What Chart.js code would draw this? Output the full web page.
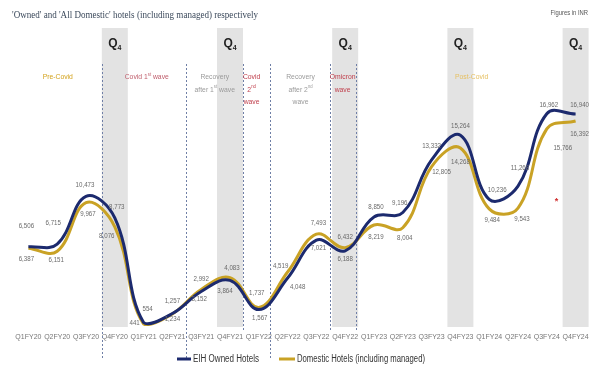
<!DOCTYPE html>
<html><head><meta charset="utf-8">
<script src="https://cdn.jsdelivr.net/npm/chart.js@4.4.1/dist/chart.umd.min.js"></script>
<style>html,body{margin:0;padding:0;background:#fff;overflow:hidden}</style>
</head><body>
<canvas id="c" width="590" height="365"></canvas>
<script>
// ---------- DATA ----------
const categories = ['Q1FY20','Q2FY20','Q3FY20','Q4FY20','Q1FY21','Q2FY21','Q3FY21','Q4FY21','Q1FY22','Q2FY22','Q3FY22','Q4FY22','Q1FY23','Q2FY23','Q3FY23','Q4FY23','Q1FY24','Q2FY24','Q3FY24','Q4FY24'];
const eihOwned = [6506,6715,10473,8773,554,1257,2992,3864,1567,4048,7021,6188,8850,9196,13332,15264,10236,11268,16962,16940];
const domesticHotels = [6387,6151,9967,8076,441,1234,3152,4083,1737,4519,7493,6432,8219,8004,12805,14268,9484,9543,15766,16392];
const seriesNames = ['EIH Owned Hotels','Domestic Hotels (including managed)'];
const q4Index = [3,7,11,15,19];
const titleText = "'Owned' and 'All Domestic' hotels (including managed) respectively";
const unitText = 'Figures in INR';

// ---------- PLACEMENT / STYLE ----------
const NAVY = '#1c2a6e', GOLD = '#c9a225';
const navyDx = [-2,-4,-1,2,4,0,0,-5,1,10,2,0,2,-3,0,0,8,2,2,4];
const navyDy = [-21,-21,-11,-11,-13,-12,-12,11,8,9,8,8,-10,-9,-14,-9,-9,-18,-9,-9];
const goldDx = [-2,-1,2,-8,-9,0,-2,2,-2,-7,2,0,2,2,10,0,3,4,16,4];
const goldDy = [11,9,11,9,-1,5,10,-10,-14,-6,-11,-11,12,10,5,14,11,11,19,13];
const phases = [
  {at:1.02, lines:[[['Pre-Covid']]], color:'#d3a21c'},
  {at:4.11, lines:[[['Covid 1'],['st',1],[' wave']]], color:'#c0606e'},
  {at:6.47, lines:[[['Recovery']],[['after 1'],['st',1],[' wave']]], color:'#9a9a9a'},
  {at:7.75, lines:[[['Covid']],[['2'],['nd',1]],[['wave']]], color:'#c0404d'},
  {at:9.45, lines:[[['Recovery']],[['after 2'],['nd',1]],[['wave']]], color:'#9a9a9a'},
  {at:10.91, lines:[[['Omicron']],[['wave']]], color:'#c0404d'},
  {at:15.39, lines:[[['Post-Covid']]], color:'#e6c062'}
];
const dividers = [{at:2.55,long:1},{at:5.47,long:1},{at:7.44},{at:8.38,long:1},{at:10.47},{at:11.37}];
const SANS = "'Liberation Sans Narrow','Liberation Sans',Arial,sans-serif";

function drawScaled(ctx, text, x, y, font, color, sx, align){
  ctx.save();
  ctx.font = font; ctx.fillStyle = color; ctx.textBaseline = 'middle';
  const w = ctx.measureText(text).width * sx;
  let left = x;
  if (align === 'center') left = x - w/2; else if (align === 'right') left = x - w;
  ctx.translate(left, y); ctx.scale(sx, 1); ctx.textAlign = 'left';
  ctx.fillText(text, 0, 0);
  ctx.restore();
  return w;
}

function drawRich(ctx, parts, cx, y, color){
  const base = 8, sx = 0.85;
  let total = 0;
  parts.forEach(p=>{ ctx.font = (p[1]?5:base)+'px '+SANS; total += ctx.measureText(p[0]).width*sx; });
  let x = cx - total/2;
  parts.forEach(p=>{
    const f = (p[1]?5:base)+'px '+SANS;
    x += drawScaled(ctx, p[0], x, p[1]? y-2.5 : y, f, color, sx, 'left');
  });
}

const decorPlugin = {
  id:'decor',
  beforeDatasetsDraw(chart){
    const {ctx, chartArea:a, scales:{x,y}} = chart;
    ctx.save();
    ctx.fillStyle = '#e3e3e3';
    q4Index.forEach(i=>{ const cx = x.getPixelForValue(i); ctx.fillRect(cx-13, a.top, 26, a.bottom-a.top); });
    ctx.strokeStyle = '#6f7fa6'; ctx.lineWidth = 1; ctx.setLineDash([2,2]);
    dividers.forEach(d=>{ const px = Math.round(x.getPixelForValue(d.at))+0.5; ctx.beginPath(); ctx.moveTo(px, 64); ctx.lineTo(px, d.long?358:330); ctx.stroke(); });
    ctx.setLineDash([]);
    q4Index.forEach(i=>{
      const cx = x.getPixelForValue(i);
      ctx.font = "bold 12px 'Liberation Sans',Arial"; const wq = ctx.measureText('Q').width;
      ctx.font = "bold 7px 'Liberation Sans',Arial"; const w4 = ctx.measureText('4').width;
      const s = cx - (wq+w4)/2;
      ctx.fillStyle = '#222'; ctx.textBaseline = 'middle'; ctx.textAlign = 'left';
      ctx.font = "bold 12px 'Liberation Sans',Arial"; ctx.fillText('Q', s, 44);
      ctx.font = "bold 7px 'Liberation Sans',Arial"; ctx.fillText('4', s+wq, 48);
    });
    phases.forEach(p=>{
      const cx = x.getPixelForValue(p.at);
      p.lines.forEach((parts, k)=> drawRich(ctx, parts, cx, 77 + k*12.5, p.color));
    });
    ctx.restore();
  },
  afterDatasetsDraw(chart){
    const {ctx, scales:{x,y}} = chart;
    ctx.save();
    const sets = [[eihOwned, navyDx, navyDy],[domesticHotels, goldDx, goldDy]];
    sets.forEach((s, di)=>{
      const meta = chart.getDatasetMeta(di);
      meta.data.forEach((pt, j)=>{
        drawScaled(ctx, s[0][j].toLocaleString('en-US'), pt.x + s[1][j], pt.y + s[2][j], '7px '+SANS, '#6a6a6a', 0.88, 'center');
      });
    });
    drawScaled(ctx, '*', x.getPixelForValue(18.34), y.getPixelForValue(10100), 'bold 9px '+SANS, '#d03030', 1, 'center');
    ctx.font = "11px 'Liberation Serif',serif";
    const tw = ctx.measureText(titleText).width;
    drawScaled(ctx, titleText, 12, 15, "11px 'Liberation Serif',serif", '#3c4a5c', 246/tw, 'left');
    drawScaled(ctx, unitText, 588, 13, '6.5px '+SANS, '#555', 0.9, 'right');
    const items = [[NAVY, 177, 191, seriesNames[0], 66],[GOLD, 279, 295, seriesNames[1], 128]];
    items.forEach(it=>{
      ctx.strokeStyle = it[0]; ctx.lineWidth = 3; ctx.beginPath(); ctx.moveTo(it[1], 359); ctx.lineTo(it[2], 359); ctx.stroke();
      ctx.font = '10px '+SANS; const w = ctx.measureText(it[3]).width;
      drawScaled(ctx, it[3], it[2]+2, 359, '10px '+SANS, '#333', it[4]/w, 'left');
    });
    ctx.restore();
  }
};

new Chart(document.getElementById('c'), {
  type:'line',
  data:{
    labels: categories,
    datasets:[
      {label: seriesNames[0], data: eihOwned, borderColor: NAVY, backgroundColor: NAVY, borderWidth:3, tension:0.4, pointRadius:0, clip:false},
      {label: seriesNames[1], data: domesticHotels, borderColor: GOLD, backgroundColor: GOLD, borderWidth:3, tension:0.4, pointRadius:0, clip:false}
    ]
  },
  options:{
    responsive:false, animation:false, devicePixelRatio:1,
    layout:{padding:{left:14,right:0,top:28,bottom:0}},
    plugins:{legend:{display:false}, tooltip:{enabled:false}},
    scales:{
      x:{ offset:true, grid:{display:false, drawTicks:true, tickLength:6}, border:{display:false},
          ticks:{font:{size:7, family:SANS}, color:'#777', padding:0, maxRotation:0, autoSkip:false},
          afterFit(s){ s.height = 38; } },
      y:{ display:false, min:200, max:23700 }
    }
  },
  plugins:[decorPlugin]
});
</script>
</body></html>
